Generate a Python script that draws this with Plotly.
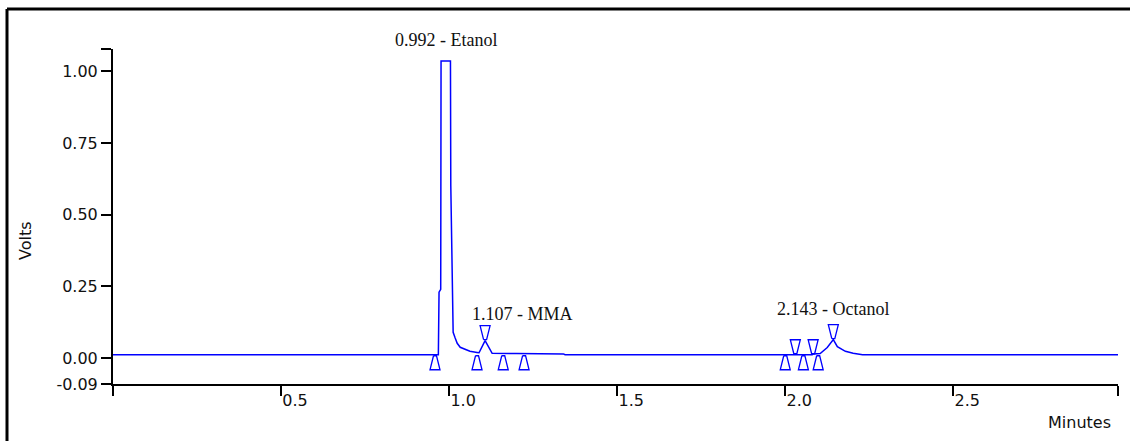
import plotly.graph_objects as go

# Chromatogram trace (minutes, volts) between the labelled peak apexes
signal_time = [0.000, 0.968, 0.970, 0.975, 0.976, 1.004, 1.005, 1.008, 1.011, 1.012,
               1.018, 1.024, 1.033, 1.048, 1.062, 1.083, 1.089, 1.128, 1.200, 1.340,
               1.345, 2.080, 2.085, 2.100, 2.104, 2.125, 2.155, 2.179, 2.202, 2.223,
               2.230, 2.990]
signal_volts = [0.012, 0.012, 0.230, 0.240, 1.036, 1.036, 0.600, 0.300, 0.130, 0.090,
                0.070, 0.052, 0.038, 0.031, 0.024, 0.020, 0.019, 0.017, 0.016, 0.015,
                0.012, 0.012, 0.015, 0.015, 0.016, 0.037, 0.040, 0.024, 0.017, 0.013,
                0.012, 0.012]

# Identified peaks
peak_names = ["Etanol", "MMA", "Octanol"]
peak_times = [0.992, 1.107, 2.143]
peak_volts = [1.036, 0.061, 0.065]

# Integration event markers: peak start/end (up) and apex/split (down)
start_times = [0.958, 1.083, 1.161, 1.223, 2.000, 2.054, 2.098]
start_volts = [0.012, 0.012, 0.012, 0.012, 0.012, 0.012, 0.012]
apex_times = [1.107, 2.030, 2.083, 2.143]
apex_volts = [0.061, 0.012, 0.012, 0.065]

x_tick_vals = [0.0, 0.5, 1.0, 1.5, 2.0, 2.5, 2.99]
x_tick_text = ["", "0.5", "1.0", "1.5", "2.0", "2.5", ""]
y_tick_vals = [-0.09, 0.0, 0.25, 0.50, 0.75, 1.00, 1.078]
y_tick_text = ["-0.09", "0.00", "0.25", "0.50", "0.75", "1.00", ""]

W, H = 1130, 441
ML, MR, MT, MB = 113, 12, 49, 57
X_RANGE = [0.0, 2.99]
Y_RANGE = [-0.09, 1.078]
PW, PH = W - ML - MR, H - MT - MB
dx = (X_RANGE[1] - X_RANGE[0]) / PW   # minutes per pixel
dy = (Y_RANGE[1] - Y_RANGE[0]) / PH   # volts per pixel

BLUE = "#0000ff"

# merge the apex points into the trace
pts = sorted(list(zip(signal_time, signal_volts)) + list(zip(peak_times, peak_volts)))
trace_t = [p[0] for p in pts]
trace_v = [p[1] for p in pts]


def trapezoids(times, volts, pointing_up):
    """Narrow-tipped triangle outlines whose tip sits on the signal."""
    xs, ys = [], []
    for t, v in zip(times, volts):
        if pointing_up:
            tip = v - 1 * dy
            base = tip - 14 * dy
        else:
            tip = v + 1 * dy
            base = tip + 14 * dy
        xs += [t - 1.5 * dx, t + 1.5 * dx, t + 5 * dx, t - 5 * dx, t - 1.5 * dx, None]
        ys += [tip, tip, base, base, tip, None]
    return xs, ys


fig = go.Figure()
fig.add_trace(go.Scatter(x=trace_t, y=trace_v, mode="lines",
                         line=dict(color=BLUE, width=1.5), hoverinfo="skip"))

ux, uy = trapezoids(start_times, start_volts, True)
fig.add_trace(go.Scatter(x=ux, y=uy, mode="lines", line=dict(color=BLUE, width=1.3),
                         hoverinfo="skip", cliponaxis=False))
dxs, dys = trapezoids(apex_times, apex_volts, False)
fig.add_trace(go.Scatter(x=dxs, y=dys, mode="lines", line=dict(color=BLUE, width=1.3),
                         hoverinfo="skip", cliponaxis=False))

# peak labels
label_style = [dict(xanchor="center", xshift=0, yshift=21),
               dict(xanchor="left", xshift=-15, yshift=27),
               dict(xanchor="center", xshift=0, yshift=31)]
for name, t, v, st in zip(peak_names, peak_times, peak_volts, label_style):
    fig.add_annotation(x=t, y=v, xref="x", yref="y", text=f"{t:.3f} - {name}",
                       showarrow=False, yanchor="middle",
                       font=dict(family="Liberation Serif", size=18, color="#111"), **st)

axis_font = dict(family="DejaVu Sans", size=16, color="#111")
fig.add_annotation(x=(26 - ML) / PW, y=(H - MB - 241) / PH, xref="paper", yref="paper",
                   text="Volts", textangle=-90, showarrow=False,
                   xanchor="center", yanchor="middle", font=axis_font)
fig.add_annotation(x=(1113 - ML) / PW, y=-(422 - (H - MB)) / PH, xref="paper", yref="paper",
                   text="Minutes", showarrow=False,
                   xanchor="right", yanchor="middle", font=axis_font)

# outer frame: only its left and top edges fall inside the figure
frame_left = (7 - ML) / PW
frame_top = 1 + (MT - 9) / PH
fig.add_shape(type="line", xref="paper", yref="paper",
              x0=frame_left, x1=frame_left, y0=-1.0, y1=frame_top,
              line=dict(color="black", width=3))
fig.add_shape(type="line", xref="paper", yref="paper",
              x0=frame_left, x1=2.0, y0=frame_top, y1=frame_top,
              line=dict(color="black", width=3))

fig.update_layout(
    width=W, height=H,
    margin=dict(l=ML, r=MR, t=MT, b=MB),
    paper_bgcolor="white", plot_bgcolor="white",
    showlegend=False,
    xaxis=dict(range=X_RANGE, showline=True, linecolor="black", linewidth=2,
               ticks="outside", ticklen=10, tickwidth=2, tickcolor="black",
               tickvals=x_tick_vals, ticktext=x_tick_text, tickfont=axis_font,
               ticklabelshift=14, ticklabelstandoff=-9,
               showgrid=False, zeroline=False, fixedrange=True),
    yaxis=dict(range=Y_RANGE, showline=True, linecolor="black", linewidth=2,
               ticks="outside", ticklen=10, tickwidth=2, tickcolor="black",
               tickvals=y_tick_vals, ticktext=y_tick_text, tickfont=axis_font,
               showgrid=False, zeroline=False, fixedrange=True),
)

fig.write_html("out.html")
